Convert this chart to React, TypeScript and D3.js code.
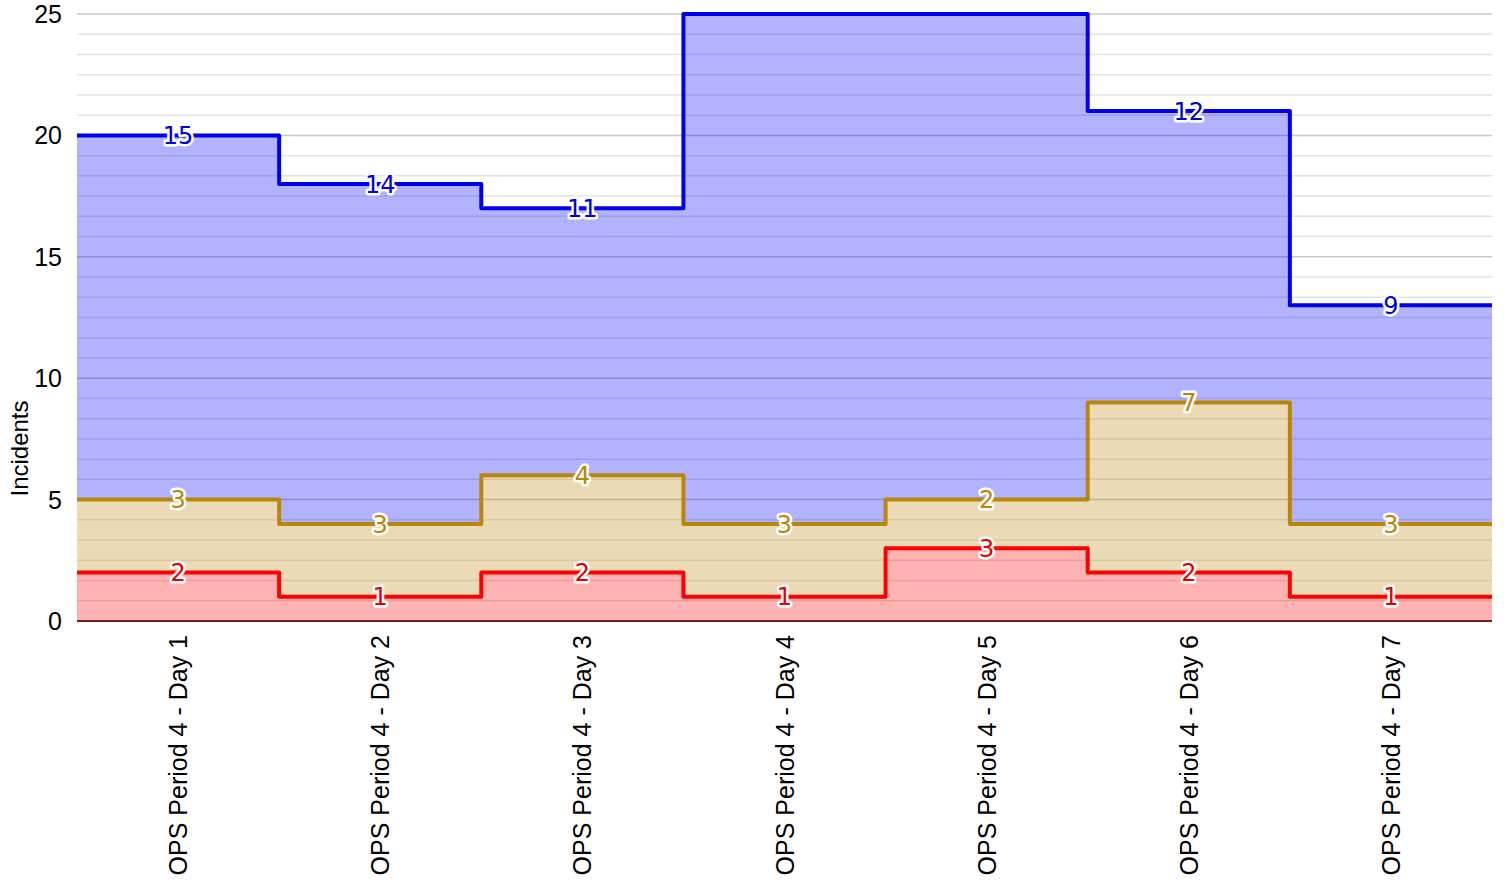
import React from "react";
import * as d3 from "d3";

const categories = [
  "OPS Period 4 - Day 1",
  "OPS Period 4 - Day 2",
  "OPS Period 4 - Day 3",
  "OPS Period 4 - Day 4",
  "OPS Period 4 - Day 5",
  "OPS Period 4 - Day 6",
  "OPS Period 4 - Day 7",
];
const redValues = [2, 1, 2, 1, 3, 2, 1];
const goldValues = [3, 3, 4, 3, 2, 7, 3];
const blueValues = [15, 14, 11, 23, 22, 12, 9];
const yTicks = [0, 5, 10, 15, 20, 25];
const yMax = 25;
const minorPerMajor = 6;

const series = [
  { name: "red", values: redValues, line: "#ff0000", fill: "rgba(255,0,0,0.3)", text: "#e00000" },
  { name: "gold", values: goldValues, line: "#b8860b", fill: "rgba(184,134,11,0.3)", text: "#b8860b" },
  { name: "blue", values: blueValues, line: "#0000ee", fill: "rgba(0,0,255,0.3)", text: "#0000dd" },
];

const W = 1504;
const H = 883;
const left = 77;
const right = 1492;
const top = 14;
const bottom = 621;

export default function App() {
  const n = categories.length;
  const x = d3.scaleLinear().domain([0, n]).range([left, right]);
  const y = d3.scaleLinear().domain([0, yMax]).range([bottom, top]).clamp(true);

  const stacked: { lo: number[]; hi: number[] }[] = [];
  let base = new Array(n).fill(0);
  for (const s of series) {
    const hi = s.values.map((v, i) => base[i] + v);
    stacked.push({ lo: base, hi });
    base = hi;
  }

  const idx = d3.range(n + 1);
  const area = (lo: number[], hi: number[]) =>
    d3
      .area<number>()
      .x((i) => x(i))
      .y0((i) => y(lo[Math.min(i, n - 1)]))
      .y1((i) => y(hi[Math.min(i, n - 1)]))
      .curve(d3.curveStepAfter)(idx) as string;
  const line = (hi: number[]) =>
    d3
      .line<number>()
      .x((i) => x(i))
      .y((i) => y(hi[Math.min(i, n - 1)]))
      .curve(d3.curveStepAfter)(idx) as string;

  const step = 5 / minorPerMajor;
  const minor = d3
    .range(1, (yMax / 5) * minorPerMajor)
    .filter((k) => k % minorPerMajor !== 0)
    .map((k) => k * step);
  const labelFont = "Liberation Sans, Arial, Helvetica, sans-serif";

  return (
    <svg width={W} height={H} style={{ position: "fixed", left: 0, top: 0, background: "#fff" }}>
      {minor.map((v) => (
        <line key={"m" + v} x1={left} x2={right} y1={y(v)} y2={y(v)} stroke="#e3e3e3" strokeWidth={1.5} />
      ))}
      {yTicks.filter((v) => v > 0).map((v) => (
        <line key={"M" + v} x1={left} x2={right} y1={y(v)} y2={y(v)} stroke="#c8c8c8" strokeWidth={1.5} />
      ))}
      <g>
        {series.map((s, k) => (
          <path key={"a" + s.name} d={area(stacked[k].lo, stacked[k].hi)} fill={s.fill} />
        ))}
        {series.map((s, k) => (
          <path
            key={"l" + s.name}
            d={line(stacked[k].hi)}
            fill="none"
            stroke={s.line}
            strokeWidth={4}
            strokeLinejoin="round"
          />
        ))}
      </g>
      <line x1={left} x2={right} y1={y(0)} y2={y(0)} stroke="#7a1c1c" strokeWidth={2} />
      {series.map((s, k) =>
        s.values.map((v, i) => {
          if (stacked[k].hi[i] > yMax) return null;
          const yy = y(stacked[k].hi[i]);
          return (
            <text
              key={s.name + i}
              x={x(i + 0.5)}
              y={yy}
              dy="0.36em"
              textAnchor="middle"
              fontFamily="DejaVu Sans, Verdana, sans-serif"
              fontSize={24}
              fill={s.text}
              stroke="#fff"
              strokeWidth={5}
              strokeLinejoin="round"
              paintOrder="stroke"
            >
              {v}
            </text>
          );
        })
      )}
      {yTicks.map((v) => (
        <text
          key={"t" + v}
          x={62}
          y={y(v)}
          dy="0.36em"
          textAnchor="end"
          fontFamily={labelFont}
          fontSize={25}
          fill="#000"
        >
          {v}
        </text>
      ))}
      <text
        transform={`translate(28, ${(top + H) / 2}) rotate(-90)`}
        textAnchor="middle"
        fontFamily={labelFont}
        fontSize={24}
        fill="#000"
      >
        Incidents
      </text>
      {categories.map((c, i) => (
        <text
          key={"x" + i}
          transform={`translate(${x(i + 0.5)}, 635) rotate(-90)`}
          dy="0.36em"
          textAnchor="end"
          fontFamily={labelFont}
          fontSize={25}
          fill="#000"
        >
          {c}
        </text>
      ))}
    </svg>
  );
}
